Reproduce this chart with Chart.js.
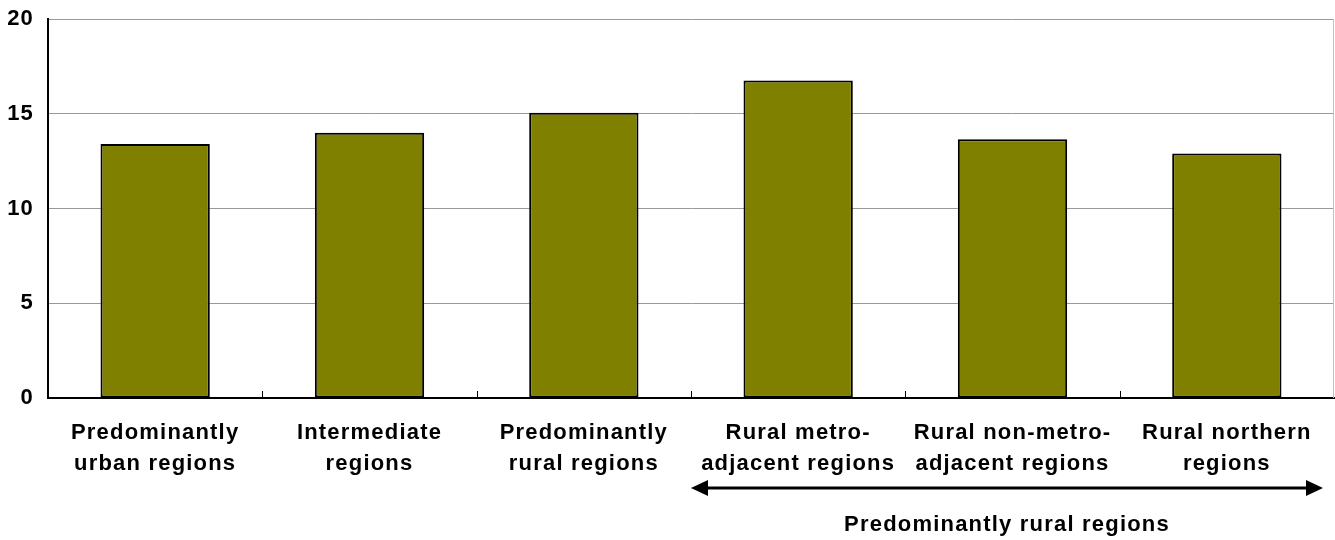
<!DOCTYPE html>
<html>
<head>
<meta charset="utf-8">
<script src="https://cdn.jsdelivr.net/npm/chart.js@4"></script>
<style>
  html, body { margin: 0; padding: 0; background: #fff; }
  #wrap { width: 1335px; height: 540px; }
</style>
</head>
<body>
<div id="wrap"><canvas id="chart"></canvas></div>
<script>
// data
const categories = [
    ['Predominantly', 'urban regions'],
    ['Intermediate', 'regions'],
    ['Predominantly', 'rural regions'],
    ['Rural metro-', 'adjacent regions'],
    ['Rural non-metro-', 'adjacent regions'],
    ['Rural northern', 'regions']
];
const values = [13.4, 14.0, 15.05, 16.75, 13.65, 12.9];
const yTicks = [0, 5, 10, 15, 20];
const groupTitle = 'Predominantly rural regions';
const groupFirst = 3;   // first category under the arrow
const groupLast = 5;

const fontFamily = '"Liberation Sans", Arial, sans-serif';

const extras = {
    id: 'extras',
    beforeDraw(chart) {
        chart.ctx.letterSpacing = '1.2px';
    },
    afterDraw(chart) {
        const ctx = chart.ctx;
        const area = chart.chartArea;
        const x = chart.scales.x;
        const half = (x.getPixelForValue(1) - x.getPixelForValue(0)) / 2;
        ctx.save();

        // light right border of the plot
        ctx.strokeStyle = '#c0c0c0';
        ctx.lineWidth = 1;
        ctx.beginPath();
        ctx.moveTo(area.right - 0.5, area.top);
        ctx.lineTo(area.right - 0.5, area.bottom);
        ctx.stroke();

        // small inside tick marks between categories
        ctx.strokeStyle = '#000';
        ctx.beginPath();
        for (let i = 1; i < categories.length; i++) {
            const px = Math.round(x.getPixelForValue(i) - half) + 0.5;
            ctx.moveTo(px, area.bottom);
            ctx.lineTo(px, area.bottom - 7);
        }
        ctx.stroke();

        // double-headed arrow under the rural groups
        const x0 = x.getPixelForValue(groupFirst) - half;
        const x1 = x.getPixelForValue(groupLast) + half - 11;
        const ay = 488;
        const head = 17;
        ctx.lineWidth = 3;
        ctx.beginPath();
        ctx.moveTo(x0 + head - 2, ay);
        ctx.lineTo(x1 - head + 2, ay);
        ctx.stroke();
        ctx.fillStyle = '#000';
        ctx.beginPath();
        ctx.moveTo(x0, ay);
        ctx.lineTo(x0 + head, ay - 8);
        ctx.lineTo(x0 + head, ay + 8);
        ctx.closePath();
        ctx.fill();
        ctx.beginPath();
        ctx.moveTo(x1, ay);
        ctx.lineTo(x1 - head, ay - 8);
        ctx.lineTo(x1 - head, ay + 8);
        ctx.closePath();
        ctx.fill();

        // group title
        ctx.font = 'bold 22px ' + fontFamily;
        ctx.textAlign = 'center';
        ctx.textBaseline = 'middle';
        ctx.fillText(groupTitle, (x0 + x1) / 2, 525);
        ctx.restore();
    }
};

const chartArea = document.getElementById('chart');
const chart = new Chart(chartArea, {
    type: 'bar',
    data: {
        labels: categories,
        datasets: [{
            data: values,
            backgroundColor: '#808000',
            borderColor: '#000',
            borderWidth: 2,
            borderSkipped: false,
            barPercentage: 0.51,
            categoryPercentage: 1
        }]
    },
    options: {
        responsive: true,
        maintainAspectRatio: false,
        animation: false,
        layout: {
            padding: { top: 19, right: 1, left: 0, bottom: 0 }
        },
        plugins: {
            legend: { display: false },
            tooltip: { enabled: false }
        },
        scales: {
            x: {
                grid: { display: false },
                border: { color: '#000', width: 2 },
                ticks: {
                    color: '#000',
                    font: { family: fontFamily, size: 22, weight: 'bold', lineHeight: 1.41 },
                    padding: 11,
                    maxRotation: 0,
                    autoSkip: false
                },
                afterFit(scale) {
                    scale.height = 142;
                    scale.paddingLeft = 0;
                    scale.paddingRight = 0;
                }
            },
            y: {
                min: 0,
                max: 20,
                afterBuildTicks(scale) {
                    scale.ticks = yTicks.map(v => ({ value: v }));
                },
                grid: { color: '#999', drawTicks: false },
                border: { color: '#000', width: 2 },
                ticks: {
                    color: '#000',
                    font: { family: fontFamily, size: 22, weight: 'bold' },
                    padding: 14
                },
                afterFit(scale) {
                    scale.width = 48;
                    scale.paddingTop = 0;
                    scale.paddingBottom = 0;
                }
            }
        }
    },
    plugins: [extras]
});
</script>
</body>
</html>
